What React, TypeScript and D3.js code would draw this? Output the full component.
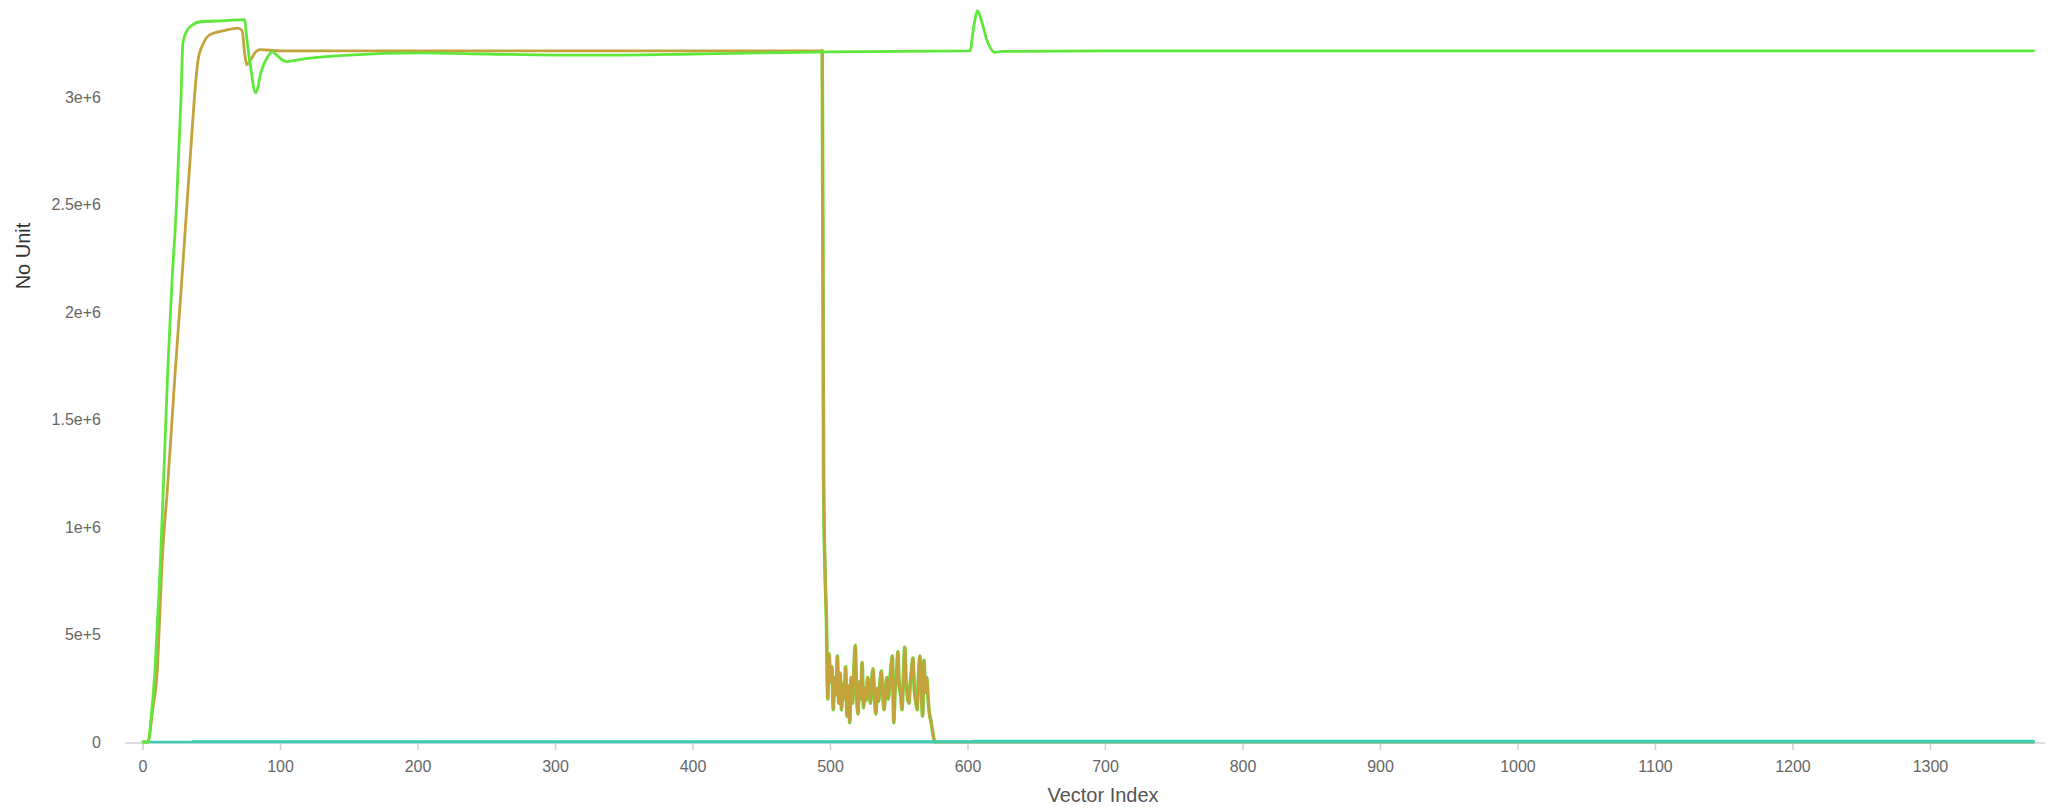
import React from 'react'
import * as d3 from 'd3'

// [vector index, value] breakpoints
const greenSeries = [
  [0, 0], [3.6, 0], [6, 120000], [8.7, 335000], [10.5, 560000], [12.4, 800000],
  [15, 1220000], [18, 1730000], [21, 2130000], [24.5, 2520000], [26, 2750000],
  [27.6, 2990000], [29, 3250000], [32, 3310000], [36, 3335000], [41.5, 3350000],
  [60, 3355000], [74, 3360000], [75, 3300000], [78, 3150000], [82, 3020000],
  [86, 3120000], [90, 3180000], [94, 3210000], [98, 3190000], [104, 3165000],
  [120, 3180000], [150, 3195000], [200, 3205000], [250, 3200000], [300, 3195000],
  [350, 3195000], [400, 3200000], [450, 3205000], [500, 3210000], [601.5, 3215000],
  [604, 3320000], [607, 3400000], [610, 3350000], [614, 3260000], [619.6, 3208000],
  [625, 3212000], [700, 3215000], [900, 3215000], [1100, 3215000], [1300, 3215000],
  [1375, 3215000],
]

const goldSeries = [
  [0, 0], [3.6, 0], [7, 150000], [10.4, 335000], [12, 560000], [13.6, 800000],
  [18, 1200000], [23.5, 1730000], [28, 2130000], [32.2, 2520000], [35, 2780000],
  [37.3, 2990000], [40, 3170000], [44, 3250000], [48.7, 3290000], [60, 3310000],
  [69, 3320000], [72, 3310000], [74, 3200000], [75.5, 3150000], [78, 3170000],
  [82, 3210000], [85, 3220000], [100, 3215000], [300, 3215000], [494, 3215000],
  [495, 1220000], [496, 800000], [497, 580000], [498, 200000], [499, 410000],
  [500, 280000], [501, 350000], [502, 150000], [503, 300000], [504, 220000],
  [505, 400000], [506, 180000], [507, 320000], [508, 150000], [509, 270000],
  [510, 200000], [511, 350000], [512, 120000], [513, 260000], [514, 90000],
  [515, 300000], [516, 180000], [517, 330000], [518, 450000], [519, 220000],
  [520, 130000], [521, 280000], [522, 200000], [523, 370000], [524, 160000],
  [525, 250000], [526, 195000], [527, 300000], [528, 260000], [529, 180000],
  [530, 290000], [531, 340000], [532, 210000], [533, 130000], [534, 250000],
  [535, 190000], [536, 280000], [537, 330000], [538, 220000], [539, 150000],
  [540, 240000], [541, 300000], [542, 200000], [543, 270000], [544, 350000],
  [545, 400000], [546, 90000], [547, 250000], [548, 310000], [549, 420000],
  [550, 260000], [551, 220000], [552, 150000], [553, 300000], [554, 440000],
  [555, 280000], [556, 210000], [557, 180000], [558, 270000], [559, 340000],
  [560, 390000], [561, 240000], [562, 190000], [563, 150000], [564, 310000],
  [565, 400000], [566, 250000], [567, 120000], [568, 380000], [569, 230000],
  [570, 300000], [571, 200000], [572, 130000], [573, 100000], [574, 60000],
  [575, 20000], [576, 0], [1375, 0],
]

// second green trace sits under the gold one after the drop
const greenUnderSeries = goldSeries.filter((d) => d[0] >= 494 && d[0] <= 576)

const tealSeries = [
  [0, 0], [1375, 0],
]

const tealSeries2 = [
  [36, 3000], [603, 3000], [604, 5000], [1375, 5000],
]

const xDomain = [-13.1, 1383.3]
const yDomain = [0, 3.4e6]
const xLabel = 'Vector Index'
const yLabel = 'No Unit'

const colors = {
  green: '#5fe83c',
  gold: '#c4a23c',
  teal: '#3ccdb2',
}

const width = 2053
const height = 808
const margin = { top: 11, right: 8, bottom: 66, left: 125 }
const font = '"Liberation Sans", Arial, sans-serif'

function VectorChart() {
  const svgRef = React.useRef(null)

  React.useEffect(() => {
    const svg = d3.select(svgRef.current)
    svg.selectAll('*').remove()

    const xScale = d3
      .scaleLinear()
      .domain(xDomain)
      .range([margin.left, width - margin.right])

    const yScale = d3
      .scaleLinear()
      .domain(yDomain)
      .range([height - margin.bottom, margin.top])

    const y0 = yScale(0)

    // X axis line + ticks
    svg
      .append('line')
      .attr('x1', margin.left)
      .attr('x2', width - margin.right)
      .attr('y1', y0 + 1)
      .attr('y2', y0 + 1)
      .attr('stroke', '#d0d0d6')
      .attr('stroke-width', 1.5)

    const xTicks = xScale.ticks(14).filter((t) => t >= 0)
    svg
      .append('g')
      .selectAll('line')
      .data(xTicks)
      .enter()
      .append('line')
      .attr('x1', (d) => xScale(d))
      .attr('x2', (d) => xScale(d))
      .attr('y1', y0)
      .attr('y2', y0 + 8)
      .attr('stroke', '#d0d0d6')
      .attr('stroke-width', 1.5)

    svg
      .append('g')
      .selectAll('text')
      .data(xTicks)
      .enter()
      .append('text')
      .attr('x', (d) => xScale(d))
      .attr('y', y0 + 30)
      .attr('text-anchor', 'middle')
      .attr('font-family', font)
      .attr('font-size', 16)
      .attr('fill', '#666')
      .text((d) => d)

    // Y tick labels (no axis line)
    const yTicks = yScale.ticks(7)
    svg
      .append('g')
      .selectAll('text')
      .data(yTicks)
      .enter()
      .append('text')
      .attr('x', 101)
      .attr('y', (d) => yScale(d))
      .attr('dy', '0.35em')
      .attr('text-anchor', 'end')
      .attr('font-family', font)
      .attr('font-size', 16)
      .attr('fill', '#666')
      .text((d) => (d === 0 ? '0' : d.toExponential()))

    // Axis titles
    svg
      .append('text')
      .attr('x', 1103)
      .attr('y', 795)
      .attr('dy', '0.35em')
      .attr('text-anchor', 'middle')
      .attr('font-family', font)
      .attr('font-size', 20)
      .attr('fill', '#555')
      .text(xLabel)

    svg
      .append('text')
      .attr('text-anchor', 'middle')
      .attr('transform', 'translate(23, 256) rotate(-90)')
      .attr('dy', '0.35em')
      .attr('font-family', font)
      .attr('font-size', 20)
      .attr('fill', '#333')
      .text(yLabel)

    const line = d3
      .line()
      .x((d) => xScale(d[0]))
      .y((d) => yScale(d[1]))
      .curve(d3.curveMonotoneX)

    const drawLine = (data, color, w) => {
      svg
        .append('path')
        .datum(data)
        .attr('d', line)
        .attr('fill', 'none')
        .attr('stroke', color)
        .attr('stroke-width', w)
        .attr('stroke-linejoin', 'round')
        .attr('stroke-linecap', 'round')
    }

    drawLine(greenUnderSeries, colors.green, 3.6)
    drawLine(goldSeries, colors.gold, 2.8)
    drawLine(tealSeries, colors.teal, 2.4)
    drawLine(tealSeries2, colors.teal, 2.4)
    drawLine(greenSeries, colors.green, 2.8)
  }, [])

  return (
    <svg
      ref={svgRef}
      width={width}
      height={height}
      style={{ position: 'absolute', left: 0, top: 0, display: 'block', background: '#fff' }}
    ></svg>
  )
}

export default function App() {
  return <VectorChart />
}
